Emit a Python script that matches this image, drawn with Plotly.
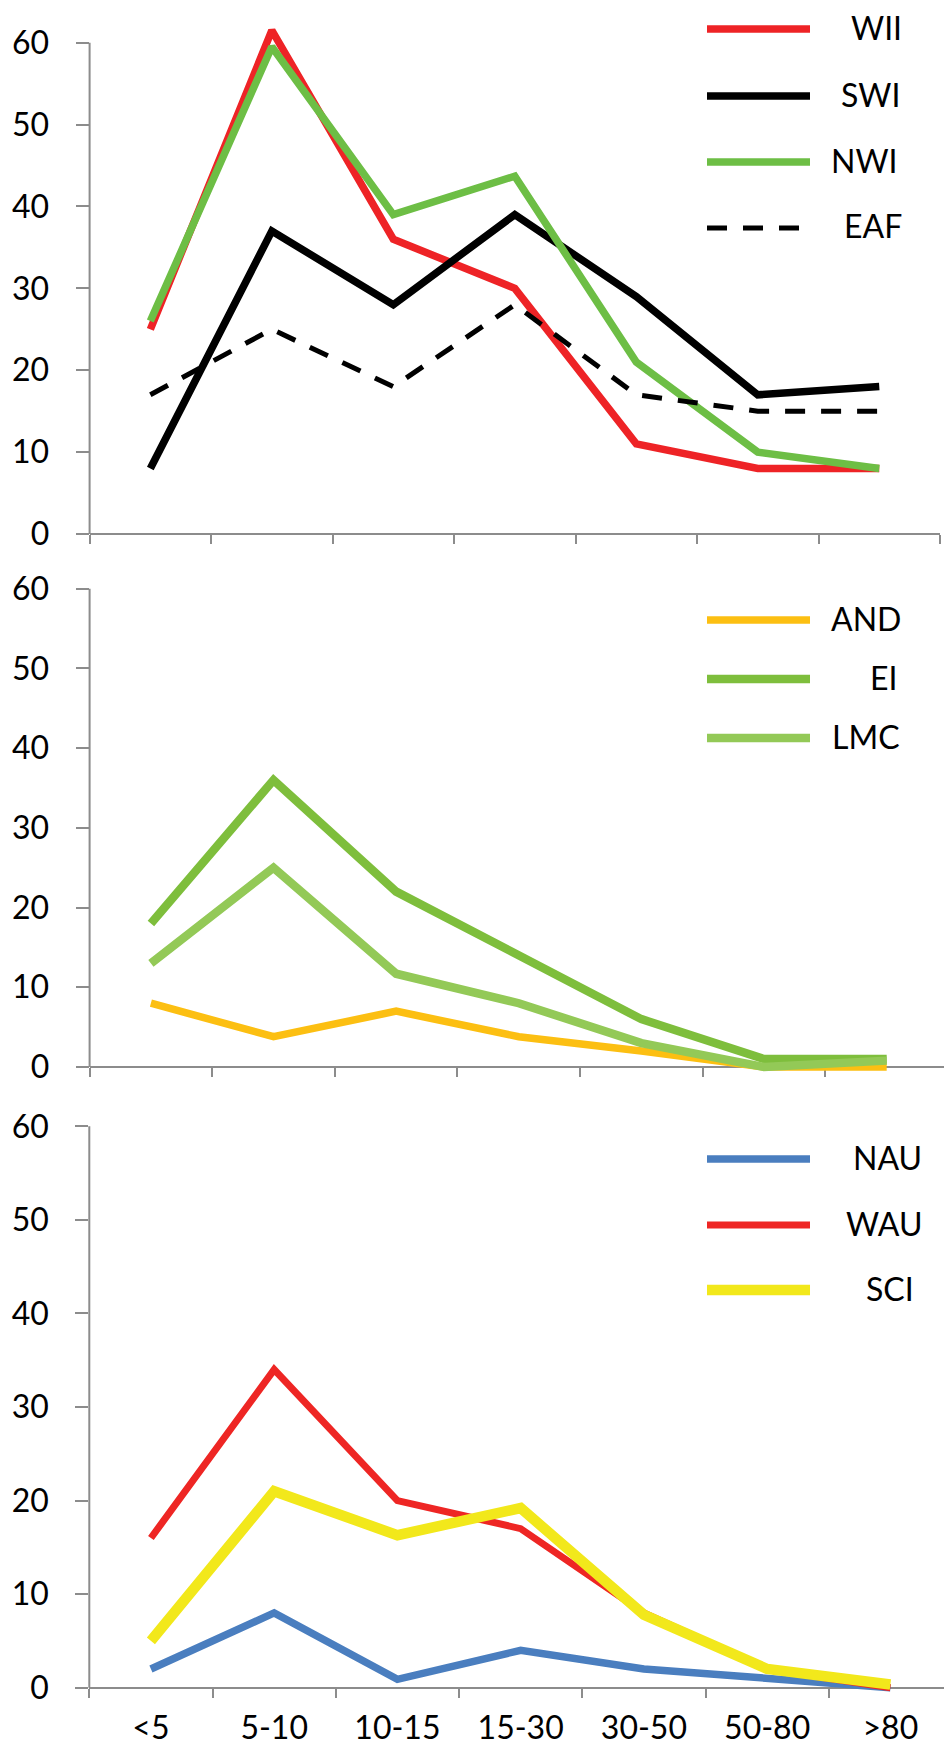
import plotly.graph_objects as go

categories = ["<5", "5-10", "10-15", "15-30", "30-50", "50-80", ">80"]
y_ticks = [0, 10, 20, 30, 40, 50, 60]

# Panel 1
WII = [25, 61.5, 36, 30, 11, 8, 8]
SWI = [8, 37, 28, 39, 29, 17, 18]
NWI = [26, 59.5, 39, 43.7, 21, 10, 8]
EAF = [17, 25, 18, 28, 17, 15, 15]

# Panel 2
AND = [8, 3.8, 7, 3.8, 2, 0, 0]
EI = [18, 36, 22, 14, 6, 1, 1]
LMC = [13, 25, 11.7, 8, 3, 0, 0.8]

# Panel 3
NAU = [2, 8, 0.9, 4, 2, 1, 0]
WAU = [16, 34, 20, 17, 8, 2, 0]
SCI = [5, 21, 16.3, 19.2, 7.8, 2, 0.35]

# page is rendered with an 8px body margin: work in page pixels, convert to figure coords
OFF = 8
W, H = 952 - OFF, 1755 - 2 * OFF
FONT = "Lato"
FS = 32
AXC = "#8c8c8c"


def px(xp):
    return (xp - OFF) / W


def py(yp):
    return 1 - (yp - OFF) / H


panels = [
    dict(series=[("WII", WII, "#EE2326", 7.5, "solid"),
                 ("SWI", SWI, "#000000", 7.5, "solid"),
                 ("NWI", NWI, "#6DBE45", 7.5, "solid"),
                 ("EAF", EAF, "#000000", 5, "20px,16px")],
         xdom=(89.6, 940), y0=534, y60=42.7,
         leg_y=[29, 96, 162, 228], leg_right=[904, 902, 900, 904], labels=False),
    dict(series=[("AND", AND, "#FCBF12", 7.5, "solid"),
                 ("EI", EI, "#7EBE3C", 8.5, "solid"),
                 ("LMC", LMC, "#93C957", 8.5, "solid")],
         xdom=(89.6, 948), y0=1067, y60=588.7,
         leg_y=[620, 679, 738], leg_right=[903, 899, 902], labels=False),
    dict(series=[("NAU", NAU, "#4A7EBF", 7.5, "solid"),
                 ("WAU", WAU, "#EE2624", 7, "solid"),
                 ("SCI", SCI, "#F2E81B", 10.5, "solid")],
         xdom=(89.3, 952), y0=1687.7, y60=1126.3,
         leg_y=[1159, 1225, 1290], leg_right=[924, 924, 916], labels=True),
]

YMIN, YMAX = -1.5, 63.0

fig = go.Figure()
shapes = []
annotations = []

for i, p in enumerate(panels, start=1):
    xa = "x" if i == 1 else f"x{i}"
    ya = "y" if i == 1 else f"y{i}"
    for name, vals, color, width, dash in p["series"]:
        fig.add_trace(go.Scatter(
            x=categories, y=vals, mode="lines", name=name,
            line=dict(color=color, width=width, dash=dash),
            xaxis=xa, yaxis=ya, showlegend=False, cliponaxis=False,
        ))
    # custom legend (line sample + right-aligned text)
    for (name, vals, color, width, dash), ly, lr in zip(p["series"], p["leg_y"], p["leg_right"]):
        shapes.append(dict(type="line", xref="paper", yref="paper",
                           x0=px(707), x1=px(810), y0=py(ly), y1=py(ly),
                           line=dict(color=color, width=width, dash=dash)))
        annotations.append(dict(text=name, xref="paper", yref="paper",
                                x=px(lr), y=py(ly - 2), xanchor="right", yanchor="middle",
                                showarrow=False, font=dict(family=FONT, size=FS, color="#000")))

    ppu = (p["y0"] - p["y60"]) / 60.0
    dom_top = p["y60"] - (YMAX - 60) * ppu
    dom_bot = p["y0"] - YMIN * ppu
    # y axis line from 0 to 60 only
    shapes.append(dict(type="line", xref=f"{xa} domain", yref=ya, x0=0, x1=0, y0=0, y1=60,
                       line=dict(color=AXC, width=2), layer="below"))

    xkey = "xaxis" if i == 1 else f"xaxis{i}"
    ykey = "yaxis" if i == 1 else f"yaxis{i}"
    x0, x1 = p["xdom"]
    fig.update_layout(**{
        xkey: dict(domain=[px(x0), min(px(x1), 1.0)], anchor="free", position=py(p["y0"]),
                   type="category", categoryorder="array", categoryarray=categories,
                   range=[-0.5, 6.5], showline=True, linecolor=AXC, linewidth=2,
                   ticks="outside", tickson="boundaries", ticklen=9, tickwidth=2,
                   tickcolor=AXC, showgrid=False, zeroline=False,
                   showticklabels=p["labels"], ticklabelstandoff=12,
                   tickfont=dict(family=FONT, size=FS, color="#000"),
                   layer="below traces", fixedrange=True),
        ykey: dict(domain=[py(dom_bot), py(dom_top)], anchor=xa, range=[YMIN, YMAX],
                   tickmode="array", tickvals=y_ticks, ticktext=[str(v) for v in y_ticks],
                   showline=False, ticks="outside", ticklen=13, tickwidth=2, tickcolor=AXC,
                   showgrid=False, zeroline=False, ticklabelstandoff=20,
                   tickfont=dict(family=FONT, size=FS, color="#000"),
                   layer="below traces", fixedrange=True),
    })

fig.update_layout(
    width=W, height=H,
    margin=dict(l=0, r=0, t=0, b=0, autoexpand=False),
    paper_bgcolor="white", plot_bgcolor="white",
    shapes=shapes, annotations=annotations,
    showlegend=False,
    font=dict(family=FONT, size=FS, color="#000"),
)

fig.write_html("out.html")
